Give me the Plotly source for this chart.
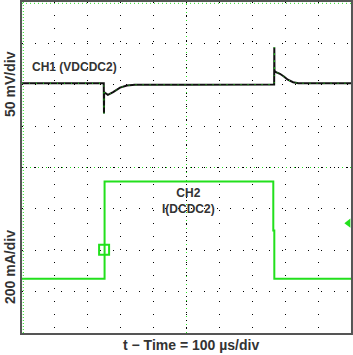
import plotly.graph_objects as go

# ---- data (time in µs, CH1 in mV deviation, CH2 in mA) ----
ch1_t = [0, 120, 247, 248.5, 249.2, 249.6, 252, 261, 277, 298, 319, 343, 500, 764, 766.4, 766.9, 767.4, 772, 784, 796, 808, 824, 840, 1000]
ch1_mv = [0, 0.3, 0, 0, -36.6, -10.8, -11.5, -14.0, -10.8, -5.3, -2.8, -1.9, -1.9, -1.6, -1.6, 43.5, 15.3, 13.3, 11.4, 8.1, 4.2, 1.2, 0, 0]

ch2_t = [0, 249.5, 251.0, 251.0, 763.8, 763.8, 766.9, 766.9, 1000]
ch2_ma = [0, 0, 0, 470, 470, 233, 233, 0, 0]

trig_t = [249.5]
trig_ma = [141]
level_t = [992]
level_ma = [269]

CH1_SCALE = 50.0   # mV/div
CH2_SCALE = 200.0  # mA/div
CH1_POS = 2.037    # div
CH2_POS = -2.69    # div

ch1_y = [CH1_POS + v / CH1_SCALE for v in ch1_mv]
ch2_y = [CH2_POS + v / CH2_SCALE for v in ch2_ma]

GREEN = "#22e01c"

fig = go.Figure()
fig.add_trace(go.Scatter(x=ch2_t, y=ch2_y, mode="lines",
                         line=dict(color=GREEN, width=2), hoverinfo="skip"))
fig.add_trace(go.Scatter(x=trig_t, y=[CH2_POS + v / CH2_SCALE for v in trig_ma], mode="markers",
                         marker=dict(symbol="square-open", size=10, color=GREEN,
                                     line=dict(width=2, color=GREEN))))
fig.add_trace(go.Scatter(x=level_t, y=[CH2_POS + v / CH2_SCALE for v in level_ma], mode="markers",
                         marker=dict(symbol="triangle-left", size=8, color=GREEN)))
fig.add_trace(go.Scatter(x=ch1_t, y=ch1_y, mode="lines",
                         line=dict(color="#111111", width=2), hoverinfo="skip"))
fig.add_trace(go.Scatter(x=ch1_t, y=ch1_y, mode="lines",
                         line=dict(color=GREEN, width=1, dash="1px,6px"), hoverinfo="skip"))

grid = dict(showgrid=True, gridcolor="#000000", gridwidth=1, griddash="1px,12px",
            zeroline=False, showticklabels=False, ticks="", showline=False)

fig.update_layout(
    width=353, height=355,
    margin=dict(l=22, r=2, t=2, b=22),
    plot_bgcolor="white", paper_bgcolor="white",
    showlegend=False,
    xaxis=dict(range=[0, 1000], dtick=100, tick0=0, **grid),
    yaxis=dict(range=[-4, 4], dtick=1, tick0=0, **grid),
    font=dict(family="Liberation Sans, Arial", color="#333333"),
)

# center cross-hair lines and green edge markers
for dash, col in (("1px,3px", "#000000"), ("1px,7px", GREEN)):
    fig.add_shape(type="line", xref="paper", yref="paper", x0=0, x1=1, y0=0.5, y1=0.5,
                  line=dict(color=col, width=1, dash=dash), layer="below")
    fig.add_shape(type="line", xref="paper", yref="paper", x0=0.5, x1=0.5, y0=0, y1=1,
                  line=dict(color=col, width=1, dash=dash), layer="below")
fig.add_shape(type="line", xref="paper", yref="paper", x0=0.004, x1=0.004, y0=0, y1=1,
              line=dict(color=GREEN, width=1, dash="1px,2px"), layer="below")
fig.add_shape(type="line", xref="paper", yref="paper", x0=0, x1=1, y0=0.996, y1=0.996,
              line=dict(color=GREEN, width=1, dash="1px,3px"), layer="below")
# frame
fig.add_shape(type="rect", xref="paper", yref="paper", x0=-0.003, x1=1.003, y0=-0.003, y1=1.003,
              line=dict(color="#555555", width=2))

common = dict(xref="paper", yref="paper", showarrow=False, xanchor="center", yanchor="middle")
fig.add_annotation(text="<b>CH1 (VDCDC2)</b>", x=0.161, y=0.804,
                   font=dict(size=12, color="#333333"), **common)
fig.add_annotation(text="<b>CH2<br>I(DCDC2)</b>", x=0.505, y=0.40,
                   font=dict(size=12, color="#333333"), **common)
fig.add_annotation(text="<b>50 mV/div</b>", x=-0.037, y=0.752, textangle=-90,
                   font=dict(size=14, color="#333333"), **common)
fig.add_annotation(text="<b>200 mA/div</b>", x=-0.037, y=0.199, textangle=-90,
                   font=dict(size=14, color="#333333"), **common)
fig.add_annotation(text="<b>t − Time = 100 µs/div</b>", x=0.515, y=-0.036,
                   font=dict(size=14, color="#333333"), **common)

fig.write_html("out.html")
